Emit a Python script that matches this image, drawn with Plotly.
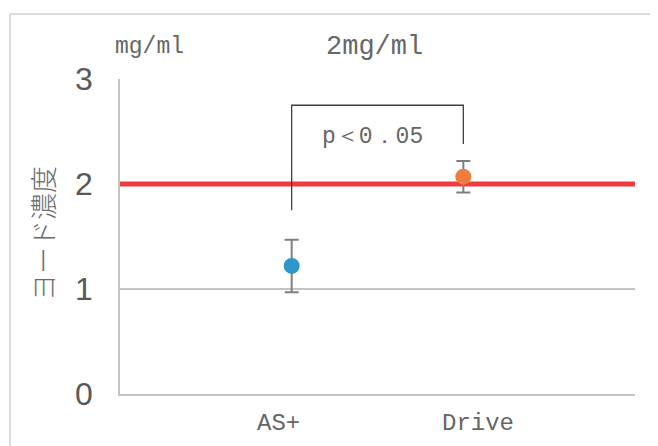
import plotly.graph_objects as go

# ---- data ----
categories = ["AS+", "Drive"]
cat_pos = [1, 2]
means = [1.22, 2.07]
errors = [0.25, 0.15]
colors = ["#2e96cb", "#f07d3e"]
reference_level = 2.0
y_ticks = [0, 1, 2, 3]
y_title = "ヨード濃度"
unit_label = "mg/ml"
ref_label = "2mg/ml"
p_label = "p＜0．05"
bracket_top = 2.75
bracket_left_bottom = 1.75
bracket_right_bottom = 2.38

GREY = "#595959"
TXT = "#666666"
GRID = "#c4c4c4"
MONO = "Liberation Mono, DejaVu Sans Mono, monospace"

fig = go.Figure()

# reference red line (trace so it sits above gridlines, below markers)
fig.add_trace(go.Scatter(
    x=[0, 3], y=[reference_level, reference_level], mode="lines",
    line=dict(color="#ef3a3f", width=5), showlegend=False, hoverinfo="skip",
))

for c, x, m, e, col in zip(categories, cat_pos, means, errors, colors):
    fig.add_trace(go.Scatter(
        x=[x], y=[m], mode="markers", name=c,
        marker=dict(size=16, color=col),
        error_y=dict(type="data", array=[e], visible=True,
                     color="#7f7f7f", thickness=2, width=7),
        showlegend=False,
    ))

shapes = []
# significance bracket
shapes.append(dict(type="path", xref="x", yref="y",
                   path=f"M {cat_pos[0]} {bracket_left_bottom} L {cat_pos[0]} {bracket_top} "
                        f"L {cat_pos[1]} {bracket_top} L {cat_pos[1]} {bracket_right_bottom}",
                   line=dict(color="#404040", width=1.3)))
# outer chart border: left edge and top edge
shapes.append(dict(type="line", xref="paper", yref="paper",
                   x0=-0.2136, x1=-0.2136, y0=-0.2, y1=1.206,
                   line=dict(color="#d0d0d0", width=1.5), layer="below"))
shapes.append(dict(type="line", xref="paper", yref="paper",
                   x0=-0.2136, x1=1.05, y0=1.206, y1=1.206,
                   line=dict(color="#d0d0d0", width=1.5), layer="below"))

annotations = []
annotations.append(dict(x=(cat_pos[0] + cat_pos[1]) / 2, y=bracket_top, xref="x", yref="y",
                        text=p_label, showarrow=False, yshift=-32, xshift=-5,
                        font=dict(family=MONO, size=23, color=TXT)))
for c, x, dx in zip(categories, cat_pos, [-13, 15]):
    annotations.append(dict(x=x, y=0, xref="x", yref="y", text=c, showarrow=False,
                            xshift=dx, yshift=-29,
                            font=dict(family=MONO, size=24, color=TXT)))
annotations.append(dict(x=-0.013, y=1.1, xref="paper", yref="paper", text=unit_label,
                        showarrow=False, xanchor="left", yanchor="middle",
                        font=dict(family=MONO, size=23, color=TXT)))
annotations.append(dict(x=0.494, y=1.1, xref="paper", yref="paper", text=ref_label,
                        showarrow=False, xanchor="center", yanchor="middle",
                        font=dict(family=MONO, size=27, color=TXT)))
annotations.append(dict(x=-0.15, y=0.51, xref="paper", yref="paper", text=y_title,
                        showarrow=False, textangle=-90, xanchor="center", yanchor="middle",
                        font=dict(family="Noto Sans CJK JP", size=27, color="#6a6a6a", weight=300)))

# page body has an 8px default margin: compensate so the plot sits where the reference's does
fig.update_layout(
    width=650, height=438,
    margin=dict(l=112, r=23, t=71, b=52),
    paper_bgcolor="white", plot_bgcolor="white",
    shapes=shapes, annotations=annotations,
    xaxis=dict(range=[0, 3], showgrid=False, zeroline=False, showticklabels=False,
               showline=True, linecolor=GRID, linewidth=1.5, fixedrange=True),
    yaxis=dict(range=[0, 3], tickvals=y_ticks, showgrid=True, gridcolor=GRID, gridwidth=1.5,
               zeroline=False, showline=True, linecolor=GRID, linewidth=1.5,
               ticklabelstandoff=19,
               tickfont=dict(family="Liberation Sans Narrow, Liberation Sans, Arial", size=32, color=GREY)),
)

fig.write_html("out.html", config={"displayModeBar": False})
